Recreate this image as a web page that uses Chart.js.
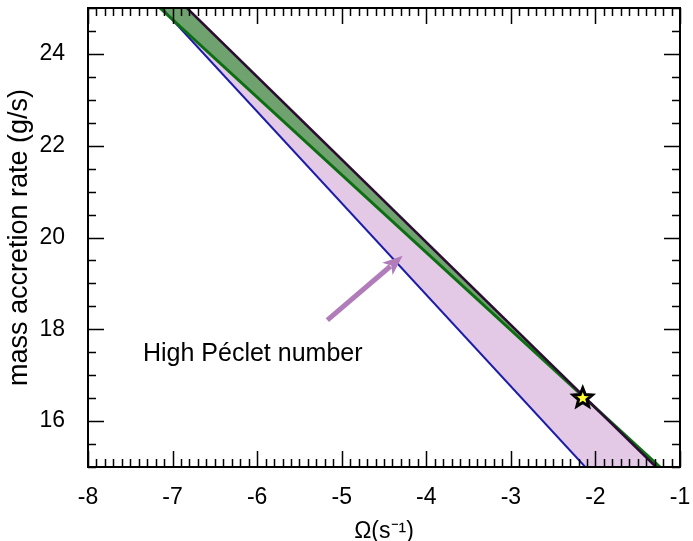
<!DOCTYPE html>
<html>
<head>
<meta charset="utf-8">
<script src="https://cdn.jsdelivr.net/npm/chart.js@4"></script>
<style>
  html, body { margin: 0; padding: 0; background: #fff; }
  #wrap { width: 693px; height: 541px; }
</style>
</head>
<body>
<div id="wrap"><canvas id="chart"></canvas></div>
<script>
// boundary lines, x as read at y = 25 and y = 15
const lineY = [25, 15];
const blueX = [-7.13, -2.12];
const greenX = [-7.15, -1.236];
const upperX = [-6.83, -1.284];

// marked model
const starPoint = { x: -2.15, y: 16.5 };

// annotation
const arrowFrom = { x: -5.17, y: 18.2 };
const arrowTo = { x: -4.28, y: 19.6 };
const noteText = 'High Péclet number';
const notePos = { x: -7.35, y: 17.47 };

const xTicks = [-8, -7, -6, -5, -4, -3, -2, -1];
const yTicks = [16, 18, 20, 22, 24];

const FONT = '"Liberation Sans", Arial, Helvetica, sans-serif';

function pts(xs, ys) {
    return xs.map((x, i) => ({ x: x, y: ys[i] }));
}

const pinkShape = pts(blueX, lineY).concat(pts(upperX, lineY).reverse());
const greenShape = pts(greenX, lineY).concat(pts(upperX, lineY).reverse());

// inward ticks on all four sides, frame, arrow, star and note
const decorations = {
    id: 'decorations',
    afterDatasetsDraw(chart) {
        const ctx = chart.ctx;
        const a = chart.chartArea;
        const xs = chart.scales.x;
        const ys = chart.scales.y;
        ctx.save();
        ctx.strokeStyle = '#000';
        ctx.lineWidth = 1.5;
        ctx.beginPath();
        for (let i = -80; i <= -10; i++) {
            const v = i / 10;
            const major = i % 10 === 0;
            const len = major ? 16 : 8;
            const px = Math.round(xs.getPixelForValue(v)) + 0.5;
            ctx.moveTo(px, a.bottom); ctx.lineTo(px, a.bottom - len);
            ctx.moveTo(px, a.top); ctx.lineTo(px, a.top + len);
        }
        for (let i = 30; i <= 50; i++) {
            const v = i / 2;
            const major = i % 4 === 0;
            const len = major ? 16 : 8;
            const py = Math.round(ys.getPixelForValue(v)) + 0.5;
            ctx.moveTo(a.left, py); ctx.lineTo(a.left + len, py);
            ctx.moveTo(a.right, py); ctx.lineTo(a.right - len, py);
        }
        ctx.stroke();
        ctx.lineWidth = 2;
        ctx.strokeRect(a.left, a.top, a.right - a.left, a.bottom - a.top);

        // arrow
        const x0 = xs.getPixelForValue(arrowFrom.x), y0 = ys.getPixelForValue(arrowFrom.y);
        const x1 = xs.getPixelForValue(arrowTo.x), y1 = ys.getPixelForValue(arrowTo.y);
        const ang = Math.atan2(y1 - y0, x1 - x0);
        const head = 20, half = 8;
        const bx = x1 - head * Math.cos(ang), by = y1 - head * Math.sin(ang);
        ctx.strokeStyle = '#b07cb9';
        ctx.fillStyle = '#b07cb9';
        ctx.lineWidth = 5;
        ctx.beginPath();
        ctx.moveTo(x0, y0); ctx.lineTo(bx + 4 * Math.cos(ang), by + 4 * Math.sin(ang));
        ctx.stroke();
        ctx.beginPath();
        ctx.moveTo(x1, y1);
        ctx.lineTo(bx + half * Math.sin(ang), by - half * Math.cos(ang));
        ctx.lineTo(bx + 5 * Math.cos(ang), by + 5 * Math.sin(ang));
        ctx.lineTo(bx - half * Math.sin(ang), by + half * Math.cos(ang));
        ctx.closePath();
        ctx.fill();

        // star
        const sx = xs.getPixelForValue(starPoint.x), sy = ys.getPixelForValue(starPoint.y);
        ctx.beginPath();
        for (let k = 0; k < 10; k++) {
            const r = k % 2 === 0 ? 10 : 4.4;
            const t = -Math.PI / 2 + k * Math.PI / 5;
            const px = sx + r * Math.cos(t), py = sy + r * Math.sin(t);
            if (k === 0) ctx.moveTo(px, py); else ctx.lineTo(px, py);
        }
        ctx.closePath();
        ctx.fillStyle = '#ffff30';
        ctx.fill();
        ctx.lineWidth = 3;
        ctx.strokeStyle = '#000';
        ctx.lineJoin = 'miter';
        ctx.stroke();

        // note
        ctx.fillStyle = '#000';
        ctx.font = '25px ' + FONT;
        ctx.textBaseline = 'middle';
        ctx.textAlign = 'left';
        ctx.fillText(noteText, xs.getPixelForValue(notePos.x), ys.getPixelForValue(notePos.y));
        ctx.restore();
    }
};

new Chart(document.getElementById('chart'), {
    type: 'scatter',
    data: {
        datasets: [
            { data: pinkShape, order: 5, showLine: true, fill: 'shape', backgroundColor: '#e3c9e6', borderWidth: 0, pointRadius: 0 },
            { data: greenShape, order: 4, showLine: true, fill: 'shape', backgroundColor: '#6fa26f', borderWidth: 0, pointRadius: 0 },
            { data: pts(blueX, lineY), order: 3, showLine: true, borderColor: '#1c1caa', borderWidth: 2, pointRadius: 0 },
            { data: pts(greenX, lineY), order: 2, showLine: true, borderColor: '#0b6e10', borderWidth: 3, pointRadius: 0 },
            { data: pts(upperX, lineY), order: 1, showLine: true, borderColor: '#2c0c32', borderWidth: 2.5, pointRadius: 0 }
        ]
    },
    options: {
        responsive: true,
        maintainAspectRatio: false,
        animation: false,
        layout: { padding: { top: 8, right: 13, left: 0, bottom: 0 } },
        plugins: { legend: { display: false }, tooltip: { enabled: false } },
        scales: {
            x: {
                type: 'linear',
                min: -8, max: -1,
                afterBuildTicks: s => { s.ticks = xTicks.map(v => ({ value: v })); },
                afterFit: s => { s.height = 74; s.paddingLeft = 0; s.paddingRight = 0; },
                grid: { display: false },
                border: { display: false },
                ticks: { color: '#000', padding: 9, font: { family: FONT, size: 23 } },
                title: { display: true, text: 'Ω(s⁻¹)', color: '#000', padding: { top: 2, bottom: -4 }, font: { family: FONT, size: 23 } }
            },
            y: {
                type: 'linear',
                min: 15, max: 25,
                afterBuildTicks: s => { s.ticks = yTicks.map(v => ({ value: v })); },
                afterFit: s => { s.width = 88; s.paddingTop = 0; s.paddingBottom = 0; },
                grid: { display: false },
                border: { display: false },
                ticks: { color: '#000', padding: 15, font: { family: FONT, size: 23 } },
                title: { display: true, text: 'mass accretion rate (g/s)', color: '#000', padding: { top: 3, bottom: 0 }, font: { family: FONT, size: 27 } }
            }
        }
    },
    plugins: [decorations]
});
</script>
</body>
</html>
